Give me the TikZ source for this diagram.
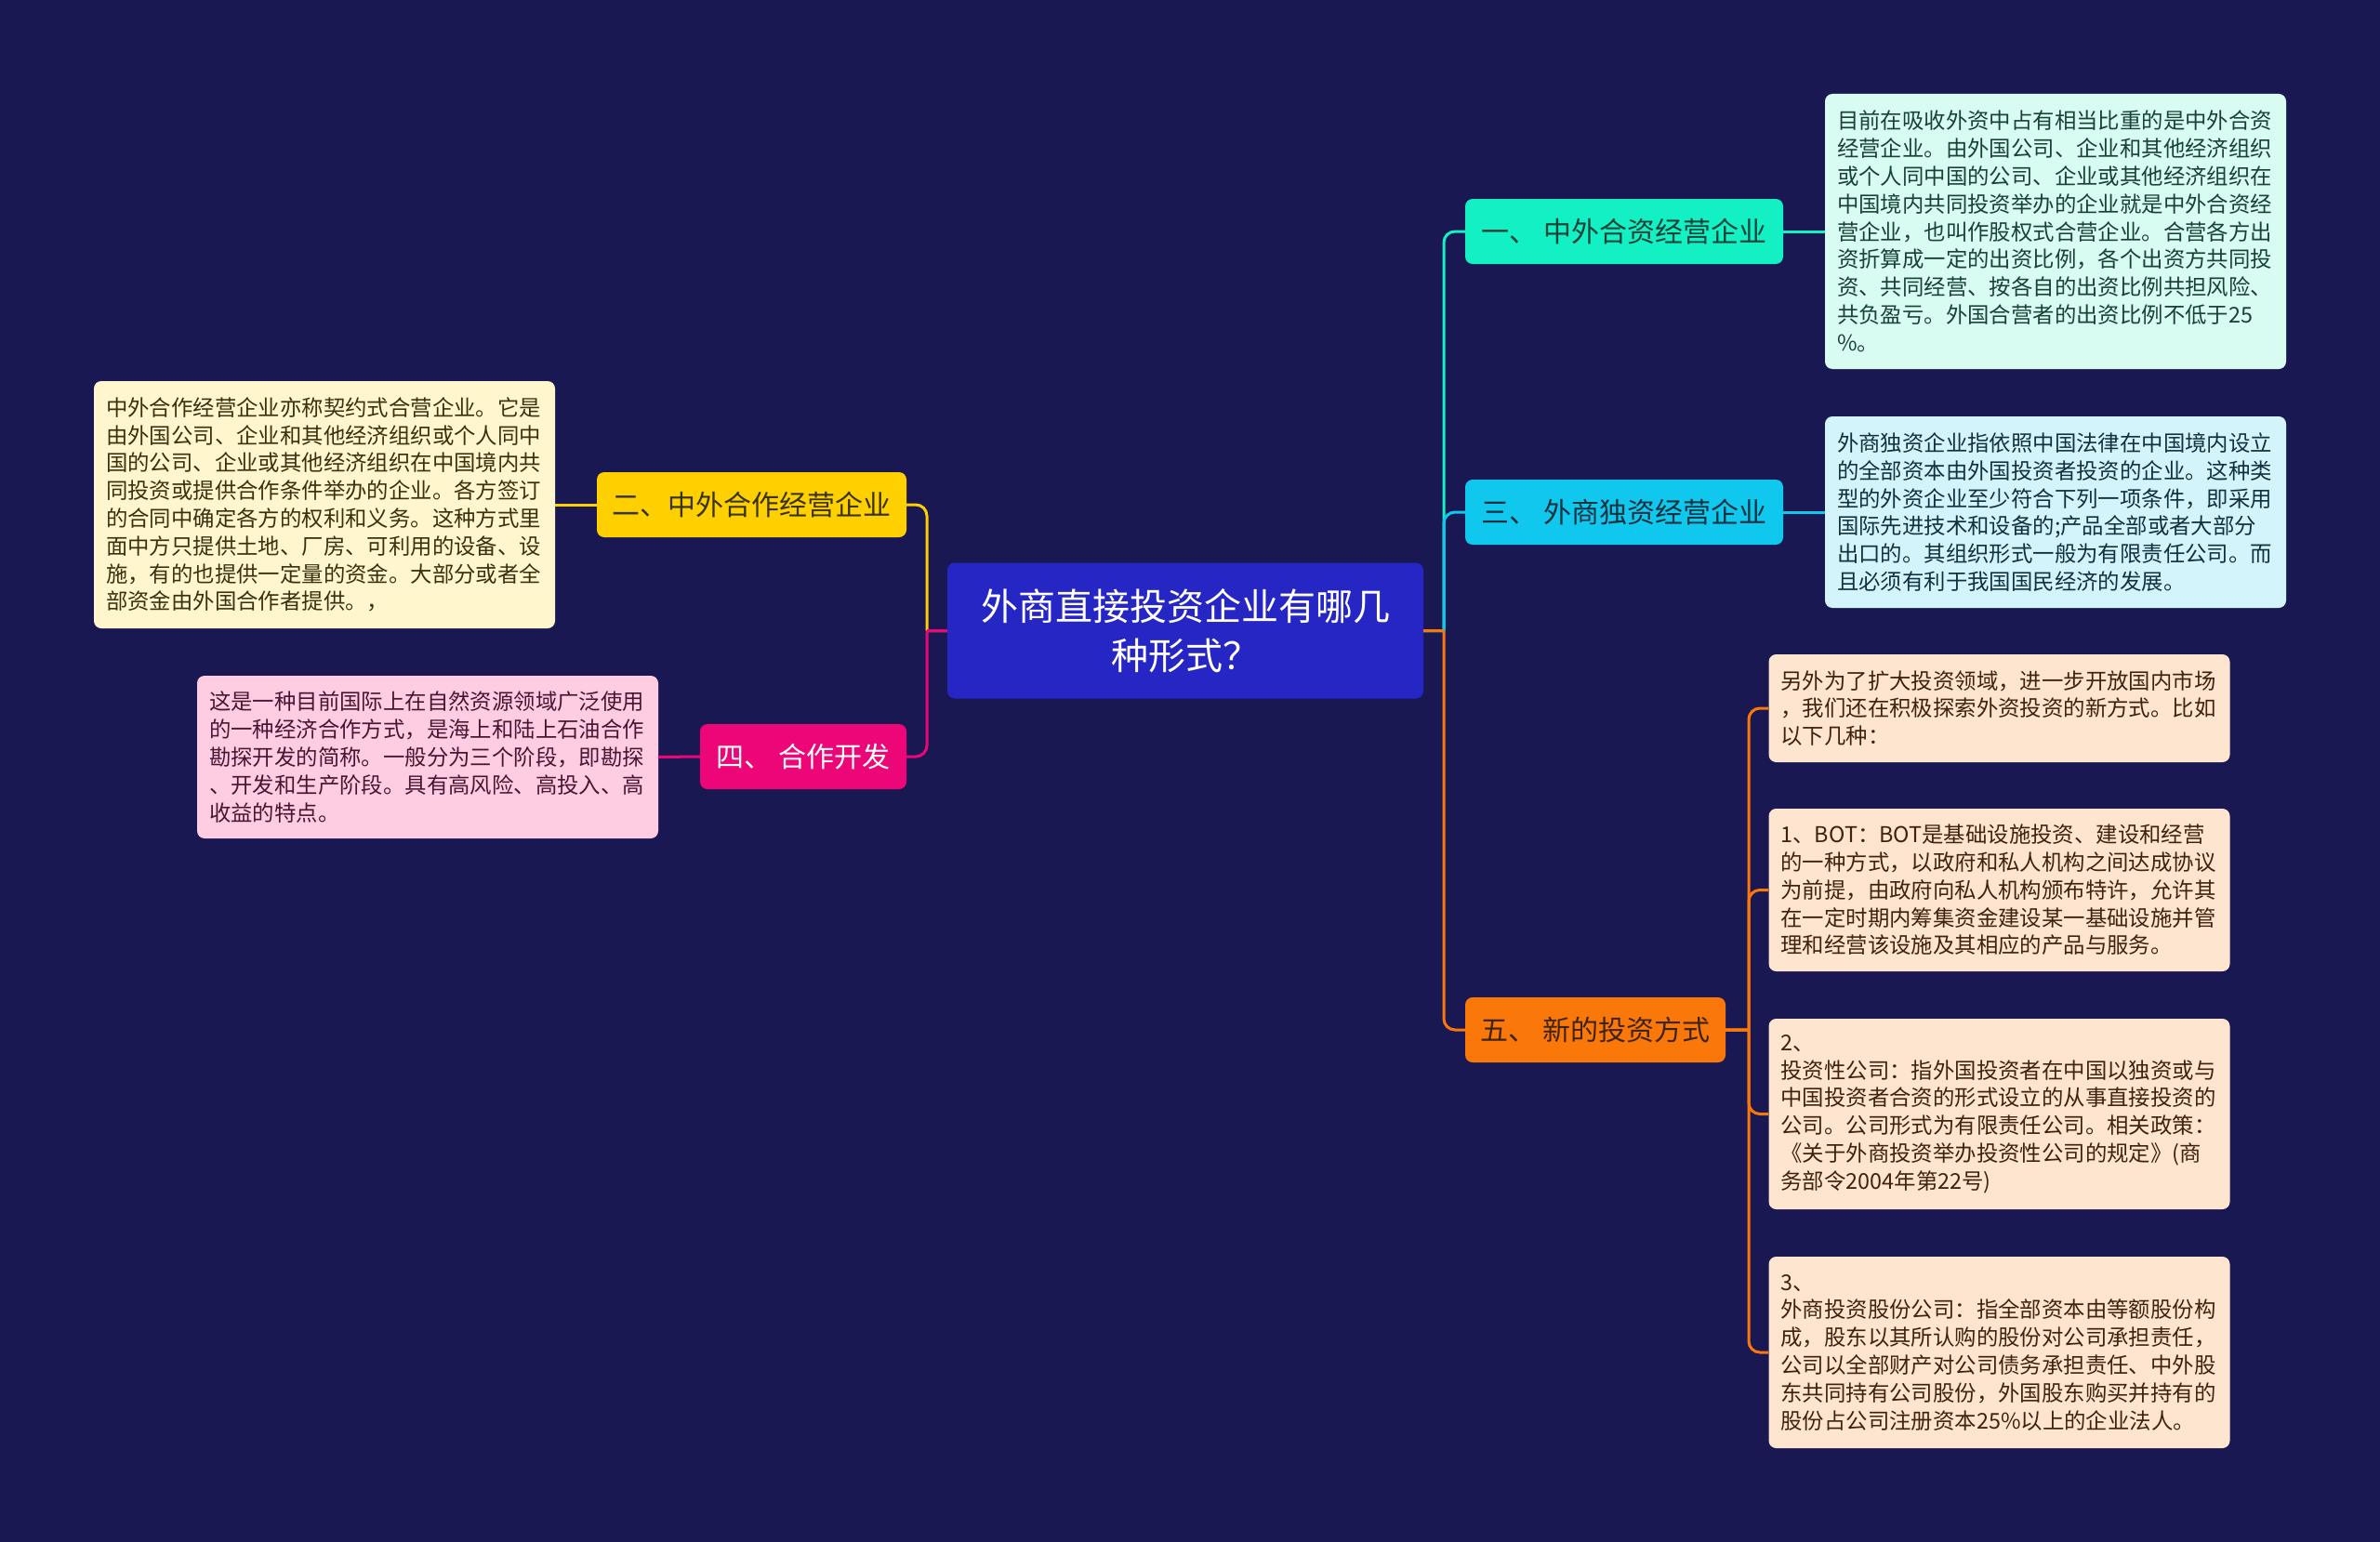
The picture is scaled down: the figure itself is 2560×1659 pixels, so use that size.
\documentclass[tikz,border=0pt]{standalone}
\usepackage{fontspec}
\setmainfont{Noto Sans CJK SC}
\definecolor{bg}{RGB}{26,24,82}
\definecolor{rootfill}{RGB}{38,38,196}
\definecolor{cmint}{RGB}{18,240,196}
\definecolor{ccyan}{RGB}{16,200,238}
\definecolor{corange}{RGB}{250,120,10}
\definecolor{cyellow}{RGB}{255,208,0}
\definecolor{cpink}{RGB}{236,6,120}
\definecolor{lmint}{RGB}{216,252,241}
\definecolor{lcyan}{RGB}{212,244,252}
\definecolor{lorange}{RGB}{253,229,208}
\definecolor{lyellow}{RGB}{255,246,206}
\definecolor{lpink}{RGB}{255,205,226}
\definecolor{tmint}{RGB}{24,66,56}
\definecolor{tcyan}{RGB}{18,48,62}
\definecolor{torange}{RGB}{62,36,14}
\definecolor{tyellow}{RGB}{56,50,14}
\definecolor{tpink}{RGB}{72,22,52}
\begin{document}
\begin{tikzpicture}[x=1pt,y=-1pt,
  box/.style={rounded corners=8pt, inner sep=0pt},
  branch/.style={box, minimum height=70pt, align=center, font=\fontsize{30}{36}\selectfont},
  leaf/.style={box, text width=470pt, align=left, inner xsep=13pt, inner ysep=0pt, font=\fontsize{23.4}{29.8}\selectfont},
  conn/.style={line width=3pt},
]
\useasboundingbox (0,0) rectangle (2560,1659);
\fill[bg] (0,0) rectangle (2560,1659);

% root
\node[box, fill=rootfill, text=white, minimum width=512pt, minimum height=146pt, align=center,
  font=\fontsize{40}{53}\selectfont] (root) at (1275,678.5) {外商直接投资企业有哪几\\种形式？};

% branches
\node[branch, fill=cmint, text=tmint, minimum width=342pt] (n1) at (1747,249) {一、 中外合资经营企业};
\node[branch, fill=ccyan, text=tcyan, minimum width=342pt] (n3) at (1747,551) {三、 外商独资经营企业};
\node[branch, fill=corange, text=torange, minimum width=280pt] (n5) at (1716,1108) {五、 新的投资方式};
\node[branch, fill=cyellow, text=tyellow, minimum width=333pt] (n2) at (808.5,543) {二、中外合作经营企业};
\node[branch, fill=cpink, text=white, minimum width=222pt] (n4) at (864,814) {四、 合作开发};

% leaves
\node[leaf, fill=lmint, text=tmint, minimum height=296pt] (l1) at (2211,249) {目前在吸收外资中占有相当比重的是中外合资\\经营企业。由外国公司、企业和其他经济组织\\或个人同中国的公司、企业或其他经济组织在\\中国境内共同投资举办的企业就是中外合资经\\营企业，也叫作股权式合营企业。合营各方出\\资折算成一定的出资比例，各个出资方共同投\\资、共同经营、按各自的出资比例共担风险、\\共负盈亏。外国合营者的出资比例不低于25\\\%。};
\node[leaf, fill=lcyan, text=tcyan, minimum height=206pt] (l3) at (2211,551) {外商独资企业指依照中国法律在中国境内设立\\的全部资本由外国投资者投资的企业。这种类\\型的外资企业至少符合下列一项条件，即采用\\国际先进技术和设备的;产品全部或者大部分\\出口的。其组织形式一般为有限责任公司。而\\且必须有利于我国国民经济的发展。};
\node[leaf, fill=lorange, text=torange, minimum height=116pt] (l5a) at (2150.5,762) {另外为了扩大投资领域，进一步开放国内市场\\，我们还在积极探索外资投资的新方式。比如\\以下几种：};
\node[leaf, fill=lorange, text=torange, minimum height=175pt] (l5b) at (2150.5,957.5) {1、BOT：BOT是基础设施投资、建设和经营\\的一种方式，以政府和私人机构之间达成协议\\为前提，由政府向私人机构颁布特许，允许其\\在一定时期内筹集资金建设某一基础设施并管\\理和经营该设施及其相应的产品与服务。};
\node[leaf, fill=lorange, text=torange, minimum height=205pt] (l5c) at (2150.5,1198.5) {2、\\投资性公司：指外国投资者在中国以独资或与\\中国投资者合资的形式设立的从事直接投资的\\公司。公司形式为有限责任公司。相关政策：\\《关于外商投资举办投资性公司的规定》(商\\务部令2004年第22号)};
\node[leaf, fill=lorange, text=torange, minimum height=206pt] (l5d) at (2150.5,1455) {3、\\外商投资股份公司：指全部资本由等额股份构\\成，股东以其所认购的股份对公司承担责任，\\公司以全部财产对公司债务承担责任、中外股\\东共同持有公司股份，外国股东购买并持有的\\股份占公司注册资本25\%以上的企业法人。};
\node[leaf, fill=lyellow, text=tyellow, minimum height=266pt] (l2) at (349,543) {中外合作经营企业亦称契约式合营企业。它是\\由外国公司、企业和其他经济组织或个人同中\\国的公司、企业或其他经济组织在中国境内共\\同投资或提供合作条件举办的企业。各方签订\\的合同中确定各方的权利和义务。这种方式里\\面中方只提供土地、厂房、可利用的设备、设\\施，有的也提供一定量的资金。大部分或者全\\部资金由外国合作者提供。，};
\node[leaf, fill=lpink, text=tpink, minimum height=175pt] (l4) at (460,814.5) {这是一种目前国际上在自然资源领域广泛使用\\的一种经济合作方式，是海上和陆上石油合作\\勘探开发的简称。一般分为三个阶段，即勘探\\、开发和生产阶段。具有高风险、高投入、高\\收益的特点。};

% junctions
\coordinate (rj) at (1553,678.5);
\coordinate (lj) at (997,678.5);
\coordinate (j5) at (1881,1108);

% root -> branches (right)
\draw[conn, cmint] (root.east) -- (rj) (rj) [rounded corners=12pt] |- (n1.west);
\draw[conn, ccyan] (root.east) -- (rj) (rj) [rounded corners=12pt] |- (n3.west);
\draw[conn, corange] (root.east) -- (rj) (rj) [rounded corners=12pt] |- (n5.west);
% root -> branches (left)
\draw[conn, cyellow] (root.west) -- (lj) (lj) [rounded corners=12pt] |- (n2.east);
\draw[conn, cpink] (root.west) -- (lj) (lj) [rounded corners=12pt] |- (n4.east);

% branches -> leaves
\draw[conn, cmint] (n1.east) -- (l1.west);
\draw[conn, ccyan] (n3.east) -- (l3.west);
\draw[conn, cyellow] (n2.west) -- (l2.east);
\draw[conn, cpink] (n4.west) -- (l4.east);
\draw[conn, corange] (n5.east) -- (j5) (j5) [rounded corners=12pt] |- (l5a.west);
\draw[conn, corange] (n5.east) -- (j5) (j5) [rounded corners=12pt] |- (l5b.west);
\draw[conn, corange] (n5.east) -- (j5) (j5) [rounded corners=12pt] |- (l5c.west);
\draw[conn, corange] (n5.east) -- (j5) (j5) [rounded corners=12pt] |- (l5d.west);
\end{tikzpicture}
\end{document}
